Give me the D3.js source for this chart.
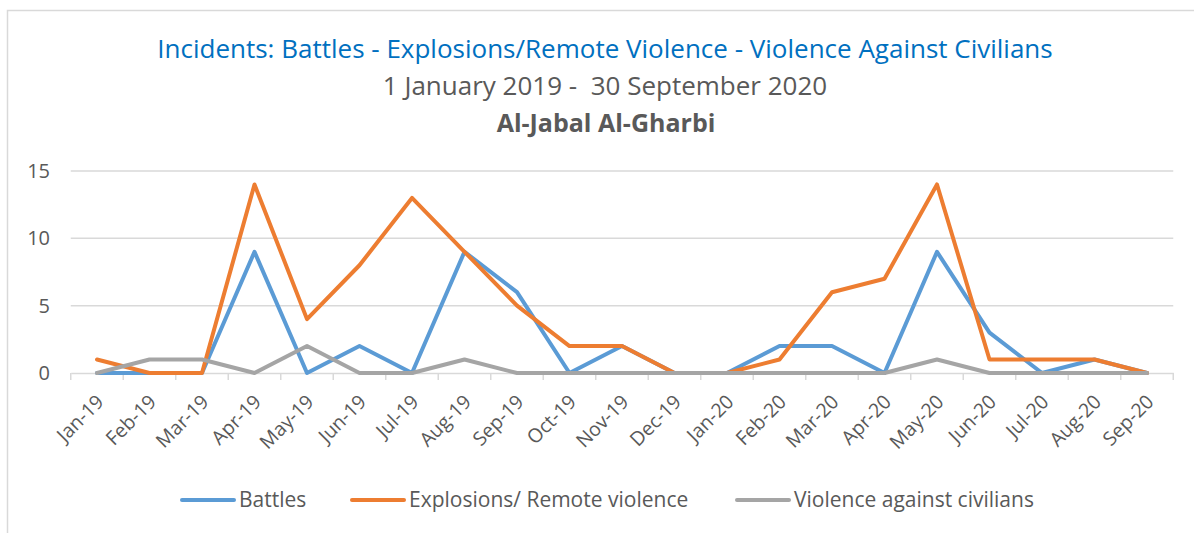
<!DOCTYPE html>
<html><head><meta charset="utf-8">
<script src="https://cdn.jsdelivr.net/npm/d3@7"></script>
<style>
html,body{margin:0;padding:0;background:#fff;}
svg{display:block;font-family:"Open Sans",sans-serif;}
</style></head>
<body>
<svg id="chart" width="1194" height="533"></svg>
<script>
const categories = ["Jan-19","Feb-19","Mar-19","Apr-19","May-19","Jun-19","Jul-19","Aug-19","Sep-19","Oct-19","Nov-19","Dec-19","Jan-20","Feb-20","Mar-20","Apr-20","May-20","Jun-20","Jul-20","Aug-20","Sep-20"];
const battles    = [0,0,0,9,0,2,0,9,6,0,2,0,0,2,2,0,9,3,0,1,0];
const explosions = [1,0,0,14,4,8,13,9,5,2,2,0,0,1,6,7,14,1,1,1,0];
const violence   = [0,1,1,0,2,0,0,1,0,0,0,0,0,0,0,0,1,0,0,0,0];
const seriesNames = ["Battles","Explosions/ Remote violence","Violence against civilians"];
const yTicks = [0,5,10,15];
const titleText = "Incidents: Battles - Explosions/Remote Violence - Violence Against Civilians";
const subtitleText = "1 January 2019 -  30 September 2020";
const regionText = "Al-Jabal Al-Gharbi";

const colors = ["#5b9bd5","#ed7d31","#a5a5a5"];
const svg = d3.select("#chart");

// chart border
svg.append("rect").attr("x",7.5).attr("y",10.5).attr("width",1200).attr("height",600)
  .attr("fill","none").attr("stroke","#d9d9d9").attr("stroke-width",1.5);

// titles
svg.append("text").attr("x",605).attr("y",58).attr("text-anchor","middle")
  .attr("fill","#0070c0").style("font-size","26px").text(titleText);
svg.append("text").attr("x",605).attr("y",95).attr("text-anchor","middle")
  .attr("fill","#595959").style("font-size","26px").style("white-space","pre").text(subtitleText);
svg.append("text").attr("x",606).attr("y",132).attr("text-anchor","middle")
  .attr("fill","#595959").style("font-size","25px").style("font-weight","bold").text(regionText);

const x = d3.scaleBand().domain(categories).range([70.75,1173.25]);
const y = d3.scaleLinear().domain([0,15]).range([373,171]);

// gridlines
svg.append("g").selectAll("line").data(yTicks.filter(d=>d>0)).join("line")
  .attr("x1",x.range()[0]).attr("x2",x.range()[1])
  .attr("y1",d=>y(d)).attr("y2",d=>y(d))
  .attr("stroke","#d9d9d9").attr("stroke-width",1.5);

// y axis labels
const yAxis = d3.axisLeft(y).tickValues(yTicks).tickSize(0).tickPadding(0);
const gy = svg.append("g").attr("transform","translate(50,0)").call(yAxis);
gy.select(".domain").remove();
gy.selectAll("text").attr("fill","#595959").style("font-size","20px").style("font-family","'Open Sans',sans-serif");

// x axis
const xAxis = d3.axisBottom(x).tickSize(0).tickFormat(d=>d);
const gx = svg.append("g").attr("transform",`translate(0,${y(0)})`).call(xAxis);
gx.select(".domain").attr("stroke","#d9d9d9").attr("stroke-width",1.5);
gx.selectAll("text")
  .attr("fill","#595959").style("font-size","19.5px").style("font-family","'Open Sans',sans-serif")
  .attr("text-anchor","end").attr("dy",null).attr("y",null)
  .attr("transform","translate(8,30) rotate(-45)");
// band boundary ticks
const bounds = categories.map(c=>x(c)).concat([x.range()[1]]);
gx.append("g").selectAll("line").data(bounds).join("line")
  .attr("x1",d=>d).attr("x2",d=>d).attr("y1",0).attr("y2",7)
  .attr("stroke","#d9d9d9").attr("stroke-width",1.5);

// lines
const allSeries = [battles, explosions, violence];
const line = d3.line().x((d,i)=>x(categories[i])+x.bandwidth()/2).y(d=>y(d));
svg.append("g").selectAll("path").data(allSeries).join("path")
  .attr("d",d=>line(d)).attr("fill","none")
  .attr("stroke",(d,i)=>colors[i]).attr("stroke-width",4)
  .attr("stroke-linejoin","round").attr("stroke-linecap","round");

// legend
const legendX = [182,352,737];
const lg = svg.append("g").selectAll("g").data(seriesNames).join("g")
  .attr("transform",(d,i)=>`translate(${legendX[i]},500)`);
lg.append("line").attr("x1",0).attr("x2",52).attr("y1",0).attr("y2",0)
  .attr("stroke",(d,i)=>colors[i]).attr("stroke-width",4).attr("stroke-linecap","round");
lg.append("text").attr("x",57).attr("y",7).attr("fill","#595959")
  .style("font-size","21px").text(d=>d);
</script>
</body></html>
